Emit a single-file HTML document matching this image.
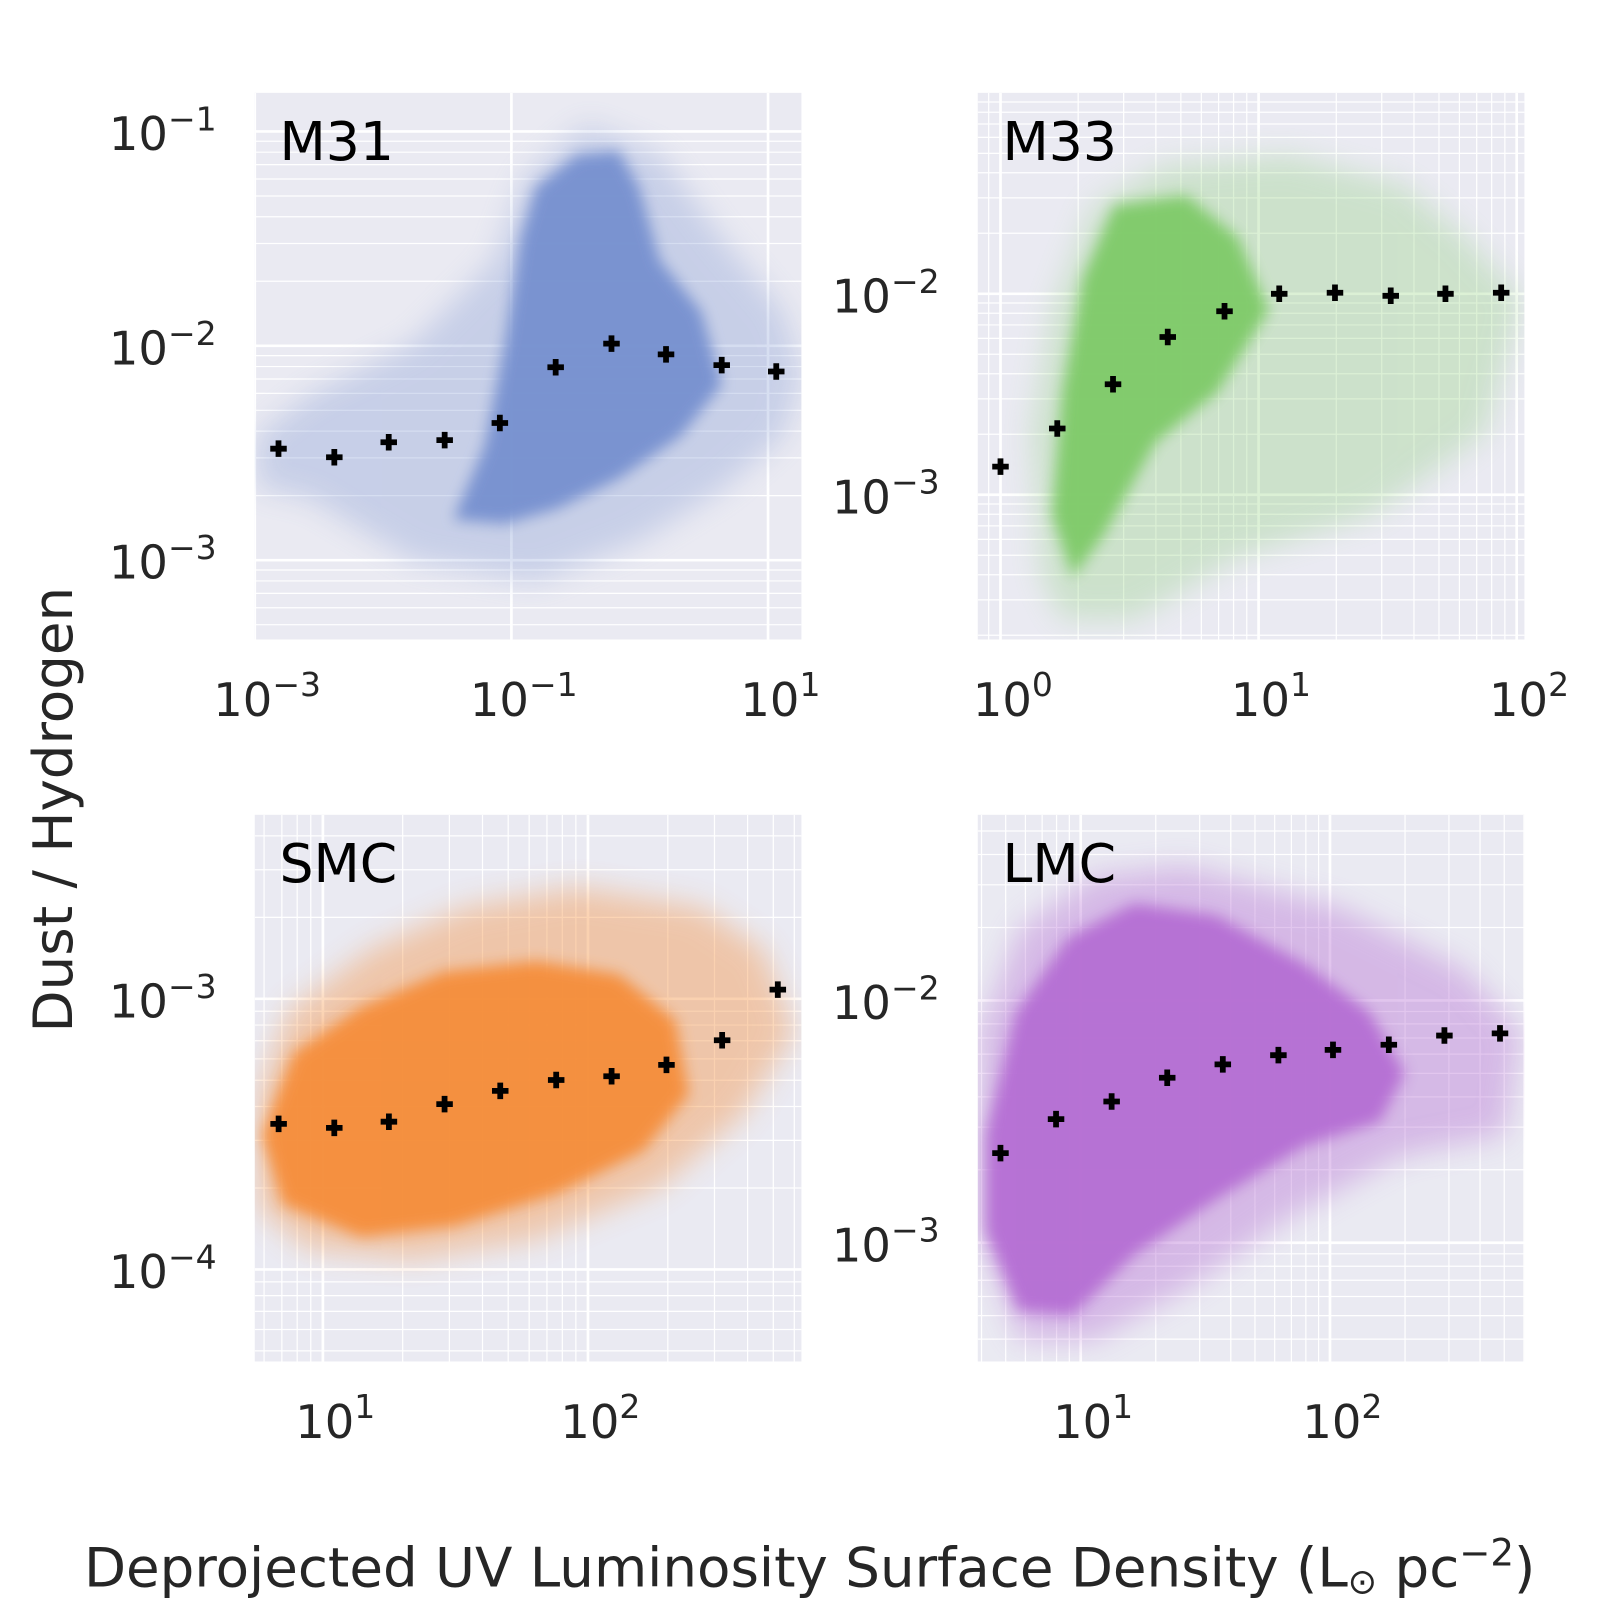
<!DOCTYPE html>
<html><head><meta charset="utf-8">
<style>
html,body{margin:0;padding:0;background:#fff;}
svg{display:block;font-family:"DejaVu Sans","Liberation Sans",sans-serif;}
</style></head>
<body>
<svg id="fig" width="1609" height="1609" viewBox="0 0 1560 1560" xmlns="http://www.w3.org/2000/svg">
<defs>
<filter id="blurCore" x="-20%" y="-20%" width="140%" height="140%"><feGaussianBlur stdDeviation="7"/></filter>
<filter id="blurHalo" x="-20%" y="-20%" width="140%" height="140%"><feGaussianBlur stdDeviation="14"/></filter>
</defs>
<text x="0" y="0" transform="translate(70,785) rotate(-90)" text-anchor="middle" font-size="53" fill="#262626">Dust / Hydrogen</text>
<text x="785" y="1538" text-anchor="middle" font-size="53" fill="#262626">Deprojected UV Luminosity Surface Density (L<tspan font-size="34" dy="7">⊙</tspan><tspan dy="-7"> pc</tspan><tspan font-size="36" dy="-20">−2</tspan><tspan dy="20">)</tspan></text>
</svg>
<script>
// ---- data (log10 units) ----
const m31MedX = [-2.815,-2.38,-1.956,-1.52,-1.09,-0.655,-0.22,0.205,0.639,1.064];
const m31MedY = [-2.48,-2.52,-2.45,-2.44,-2.36,-2.10,-1.99,-2.04,-2.09,-2.12];
const m33MedX = [0,0.22,0.436,0.648,0.868,1.08,1.296,1.512,1.724,1.94];
const m33MedY = [-2.86,-2.67,-2.45,-2.215,-2.087,-2.0,-1.995,-2.01,-2.0,-1.995];
const smcMedX = [0.833,1.043,1.249,1.459,1.669,1.88,2.089,2.296,2.506,2.716];
const smcMedY = [-3.462,-3.477,-3.454,-3.389,-3.34,-3.30,-3.286,-3.244,-3.153,-2.966];
const lmcMedX = [0.678,0.901,1.124,1.347,1.57,1.793,2.012,2.236,2.459,2.682];
const lmcMedY = [-2.63,-2.49,-2.417,-2.319,-2.264,-2.226,-2.204,-2.183,-2.145,-2.136];

// density envelopes of scatter clouds (log units)
const m31CoreX = [-1.45,-1.21,-1.05,-0.93,-0.81,-0.49,-0.165,-0.005,0.155,0.48,0.64,0.32,-0.165,-0.645,-1.05];
const m31CoreY = [-2.81,-2.47,-1.985,-1.5,-1.26,-1.11,-1.09,-1.26,-1.6,-1.84,-2.18,-2.42,-2.62,-2.76,-2.83];
const m31HaloX = [-2.98,-2.57,-1.77,-1.13,-0.89,-0.41,0.16,0.64,1.12,1.26,1.12,0.64,0.0,-0.81,-1.77,-2.57,-2.98];
const m31HaloY = [-2.42,-2.23,-1.99,-1.6,-1.21,-0.97,-1.11,-1.5,-1.84,-2.13,-2.42,-2.67,-2.91,-3.1,-3.0,-2.71,-2.66];
const m33CoreX = [0.2,0.24,0.32,0.44,0.72,0.92,1.04,0.84,0.6,0.4,0.28];
const m33CoreY = [-3.10,-2.49,-1.92,-1.56,-1.51,-1.72,-2.08,-2.49,-2.74,-3.2,-3.41];
const m33HaloX = [0.16,0.12,0.2,0.36,0.64,1.12,1.56,1.8,2.02,1.88,1.44,0.92,0.52,0.24];
const m33HaloY = [-3.41,-2.69,-2.08,-1.56,-1.36,-1.31,-1.46,-1.72,-2.03,-2.69,-3.10,-3.31,-3.62,-3.62];
const smcCoreX = [0.77,0.89,1.144,1.455,1.805,2.117,2.33,2.38,2.21,1.883,1.494,1.144,0.85];
const smcCoreY = [-3.504,-3.2,-3.03,-2.90,-2.86,-2.91,-3.08,-3.351,-3.56,-3.72,-3.84,-3.88,-3.76];
const smcHaloX = [0.755,0.872,1.183,1.533,1.961,2.428,2.661,2.778,2.584,2.272,1.805,1.339,0.949,0.755];
const smcHaloY = [-3.351,-3.046,-2.817,-2.664,-2.588,-2.664,-2.817,-3.122,-3.427,-3.695,-3.885,-3.962,-3.924,-3.771];
const lmcCoreX = [0.62,0.74,0.95,1.215,1.545,1.90,2.16,2.30,2.20,1.90,1.545,1.215,0.967,0.75,0.62];
const lmcCoreY = [-2.553,-2.05,-1.74,-1.60,-1.65,-1.85,-2.05,-2.30,-2.50,-2.60,-2.82,-3.05,-3.30,-3.28,-2.95];
const lmcHaloX = [0.595,0.76,1.05,1.421,2.041,2.537,2.764,2.702,2.289,1.835,1.421,1.05,0.76,0.595];
const lmcHaloY = [-2.128,-1.702,-1.489,-1.447,-1.617,-1.872,-2.128,-2.553,-2.638,-2.894,-3.191,-3.404,-3.404,-2.979];

const m31XTicks = [-3,-1,1], m31YTicks = [-1,-2,-3];
const m33XTicks = [0,1,2], m33YTicks = [-2,-3];
const smcXTicks = [1,2], smcYTicks = [-3,-4];
const lmcXTicks = [1,2], lmcYTicks = [-2,-3];

const panels = [
 {name:'m31',title:'M31',box:[247,90,530,530],xl:[-3,1.26],yl:[-3.37,-0.82],color:'#7892d0',xt:m31XTicks,yt:m31YTicks,minX:false,minY:true,medX:m31MedX,medY:m31MedY,cx:m31CoreX,cy:m31CoreY,hx:m31HaloX,hy:m31HaloY,haloOp:0.3},
 {name:'m33',title:'M33',box:[948,90,530,530],xl:[-0.088,2.03],yl:[-3.72,-1.0],color:'#80cb6a',xt:m33XTicks,yt:m33YTicks,minX:true,minY:true,medX:m33MedX,medY:m33MedY,cx:m33CoreX,cy:m33CoreY,hx:m33HaloX,hy:m33HaloY,haloOp:0.28},
 {name:'smc',title:'SMC',box:[247,790,530,530],xl:[0.743,2.805],yl:[-4.34,-2.32],color:'#f58f3e',xt:smcXTicks,yt:smcYTicks,minX:true,minY:true,medX:smcMedX,medY:smcMedY,cx:smcCoreX,cy:smcCoreY,hx:smcHaloX,hy:smcHaloY,haloOp:0.4},
 {name:'lmc',title:'LMC',box:[948,790,530,530],xl:[0.587,2.78],yl:[-3.49,-1.234],color:'#b670d4',xt:lmcXTicks,yt:lmcYTicks,minX:true,minY:true,medX:lmcMedX,medY:lmcMedY,cx:lmcCoreX,cy:lmcCoreY,hx:lmcHaloX,hy:lmcHaloY,haloOp:0.4}
];

const NS='http://www.w3.org/2000/svg';
const fig=document.getElementById('fig');
function mk(tag,attrs,parent){const e=document.createElementNS(NS,tag);for(const k in attrs)e.setAttribute(k,attrs[k]);(parent||fig).appendChild(e);return e;}

panels.forEach(p=>{
  const [bx,by,bw,bh]=p.box;
  const X=v=>bx+(v-p.xl[0])/(p.xl[1]-p.xl[0])*bw;
  const Y=v=>by+bh-(v-p.yl[0])/(p.yl[1]-p.yl[0])*bh;
  const g=mk('g',{});
  
  
  const clip=mk('clipPath',{id:'clip-'+p.name},g);
  mk('rect',{x:bx,y:by,width:bw,height:bh},clip);
  const bg=mk('rect',{x:bx,y:by,width:bw,height:bh,fill:'#eaeaf2'},g);
  
  
  const grid=mk('g',{'clip-path':'url(#clip-'+p.name+')'},g);
  
  
  for(let d=Math.floor(p.xl[0]);d<=Math.ceil(p.xl[1]);d++){
    if(p.minX) for(let m=2;m<=9;m++){const v=d+Math.log10(m);if(v>p.xl[0]&&v<p.xl[1]){const x=X(v);mk('line',{x1:x,x2:x,y1:by,y2:by+bh,stroke:'#fff','stroke-width':1.2},grid);}}
  }
  p.xt.forEach(v=>{const x=X(v);mk('line',{x1:x,x2:x,y1:by,y2:by+bh,stroke:'#fff','stroke-width':2.6},grid);});
  for(let d=Math.floor(p.yl[0]);d<=Math.ceil(p.yl[1]);d++){
    if(p.minY) for(let m=2;m<=9;m++){const v=d+Math.log10(m);if(v>p.yl[0]&&v<p.yl[1]){const y=Y(v);mk('line',{x1:bx,x2:bx+bw,y1:y,y2:y,stroke:'#fff','stroke-width':1.2},grid);}}
  }
  p.yt.forEach(v=>{const y=Y(v);mk('line',{x1:bx,x2:bx+bw,y1:y,y2:y,stroke:'#fff','stroke-width':2.6},grid);});
  const cl=mk('g',{'clip-path':'url(#clip-'+p.name+')'},g);
  const halo=mk('polygon',{points:p.hx.map((v,i)=>X(v)+','+Y(p.hy[i])).join(' '),fill:p.color,opacity:p.haloOp,filter:'url(#blurHalo)'},cl);
  
  
  const core=mk('polygon',{points:p.cx.map((v,i)=>X(v)+','+Y(p.cy[i])).join(' '),fill:p.color,opacity:0.97,filter:'url(#blurCore)'},cl);
  
  
  p.medX.forEach((v,i)=>{
    const x=X(v),y=Y(p.medY[i]),a=8,t=2.8;
    const m=mk('path',{d:`M${x-t},${y-a}h${2*t}v${a-t}h${a-t}v${2*t}h${-(a-t)}v${a-t}h${-2*t}v${-(a-t)}h${-(a-t)}v${-2*t}h${a-t}z`,fill:'#000'},g);
    
    
  });
  const tt=mk('text',{x:bx+24,y:by+65,'font-size':52,fill:'#000'},g);
  tt.textContent=p.title;
  
  
  p.xt.forEach(v=>{
    const t=mk('text',{x:X(v)+12,y:by+bh+74,'text-anchor':'middle','font-size':45,fill:'#262626'},g);
    t.innerHTML='10<tspan font-size="32" dy="-19">'+(v<0?'−':'')+Math.abs(v)+'</tspan>';
    
    
  });
  p.yt.forEach(v=>{
    const t=mk('text',{x:bx-37,y:Y(v)+18,'text-anchor':'end','font-size':45,fill:'#262626'},g);
    t.innerHTML='10<tspan font-size="32" dy="-19">'+(v<0?'−':'')+Math.abs(v)+'</tspan>';
    
    
  });
});
</script>
</body></html>
